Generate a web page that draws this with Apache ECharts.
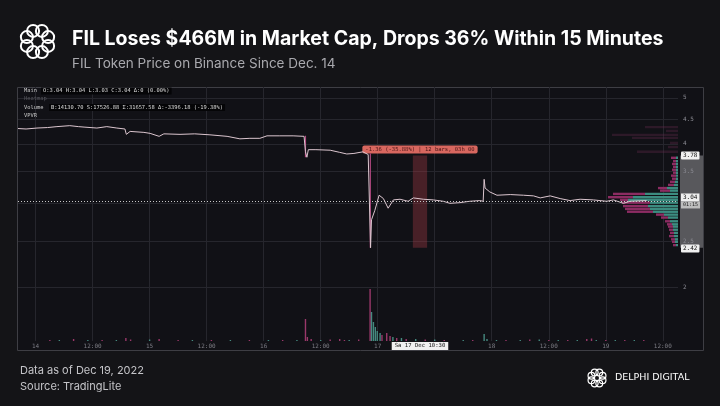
<!DOCTYPE html>
<html>
<head>
<meta charset="utf-8">
<script src="https://cdn.jsdelivr.net/npm/echarts@6/dist/echarts.min.js"></script>
<style>
html, body { margin: 0; padding: 0; background: #141417; }
#chart { width: 720px; height: 406px; }
</style>
</head>
<body>
<div id="chart"></div>
<script>
// hours counted from Dec 14 00:00
const hourTicks = [0, 12, 24, 36, 48, 60, 72, 84, 96, 108, 120, 132];
const hourTickLabels = ['14', '12:00', '15', '12:00', '16', '12:00', '17', '12:00', '18', '12:00', '19', '12:00'];
const priceTicks = [2, 2.5, 3, 3.5, 4, 4.5, 5];

const priceHours = [-3.7, -2, 0.3, 2.5, 4.5, 7.2, 9, 10.2, 12.9, 15, 17.1, 18.8, 19.1, 19.9, 22.8, 24.1, 26, 27,
    30.4, 33.5, 36.7, 40.3, 43, 45.1, 47.2, 48.7, 51.4, 54.2, 56.5, 56.8, 57.1, 57.4, 59, 62, 64, 65.5, 67, 68.9,
    70, 70.3, 70.5, 70.7, 71.4, 72.3, 73.2, 74.2, 75.3, 76.7, 78.4, 79.5, 81.6, 83.7, 85.8, 87.2, 89.3, 91.4, 93.5,
    94.2, 94.4, 94.6, 95.6, 97.1, 99.9, 102.7, 104.8, 106.2, 108.3, 110.4, 112.5, 114.6, 117.4, 120.2, 121.6,
    123.7, 125.1, 128.6];
const prices = [4.31, 4.30, 4.32, 4.33, 4.35, 4.37, 4.35, 4.34, 4.32, 4.35, 4.32, 4.30, 4.19, 4.25, 4.23, 4.21, 4.15, 4.20,
    4.19, 4.20, 4.18, 4.15, 4.10, 4.11, 4.11, 4.16, 4.16, 4.16, 4.15, 3.85, 3.75, 3.89, 3.89, 3.88, 3.84, 3.81, 3.82, 3.85,
    3.80, 3.78, 2.42, 2.77, 2.90, 3.12, 3.07, 2.93, 3.05, 3.06, 3.03, 3.08, 3.06, 3.05, 3.03, 3.00, 3.01, 3.03, 3.04,
    3.03, 3.37, 3.23, 3.17, 3.12, 3.13, 3.12, 3.11, 3.08, 3.11, 3.07, 3.04, 3.06, 3.05, 3.03, 3.05,
    3.00, 3.03, 3.04];
const lastPrice = 3.04;
const crashHigh = 3.78;
const crashLow = 2.42;
const wickHours = [56.8, 70.45];
const wickTops = [4.16, 3.82];
const wickLows = [3.75, 2.42];

const volSell = [[3, 1], [8, 2], [14, 1], [19, 3], [20, 1.5], [26, 2], [30, 1], [37, 1], [45, 1], [52, 1], [56.8, 22],
    [57.2, 4], [58, 2], [62, 1.5], [64, 2], [65, 1], [68, 1.5], [70.4, 52], [72.9, 6], [73.9, 8], [74.6, 5], [76, 3],
    [78, 2], [82, 1.5], [86, 1], [92, 1], [99, 1], [104, 1.5], [108, 1], [112, 1], [116, 2], [117, 2.5], [120, 1],
    [124, 1], [128, 1]];
const volBuy = [[5, 1], [11, 1], [17, 1], [24, 1.5], [33, 1], [41, 1], [49, 1], [55, 1], [60, 1], [66, 1], [70.7, 29],
    [71.1, 19], [71.5, 14], [71.9, 10], [72.5, 8], [75.2, 4], [77, 3], [80, 2], [84, 1.5], [90, 1], [94.4, 7], [95, 2],
    [97, 1], [102, 1], [106, 1.5], [110, 1], [114, 1], [118, 1], [122, 1], [126, 1]];

// volume profile: price level, sell, buy, dimmed
const vpLevels = [4.34, 4.26, 4.18, 4.12, 4.02, 3.94, 3.85, 3.74, 3.68, 3.63, 3.58, 3.53, 3.48, 3.43, 3.38, 3.33, 3.28,
    3.23, 3.19, 3.14, 3.09, 3.05, 3.01, 2.96, 2.92, 2.88, 2.84, 2.80, 2.75, 2.71, 2.68, 2.64, 2.60, 2.56, 2.52, 2.49, 2.45];
const vpSell = [33, 12, 66, 46, 8, 10, 41, 5, 3, 4, 3, 4, 3, 5, 4, 5, 6, 9, 10, 32, 25, 8, 28, 25, 25, 26, 8, 7, 5, 5, 5, 4, 4, 5, 4, 3, 3];
const vpBuy = [0, 0, 0, 0, 0, 0, 0, 2, 2, 2, 2, 2, 2, 2, 2, 3, 4, 11, 8, 33, 45, 50, 28, 30, 28, 25, 14, 10, 8, 6, 5, 5, 4, 4, 3, 3, 2];
const vpDim = [1, 1, 1, 1, 1, 1, 1, 0, 0, 0, 0, 0, 0, 0, 0, 0, 0, 0, 0, 0, 0, 0, 0, 0, 0, 0, 0, 0, 0, 0, 0, 0, 0, 0, 0, 0, 0];

const hourMin = -3.7, hourMax = 135.2;
const logMin = Math.log(1.54), logMax = Math.log(5.27);
const vpHalf = 0.0058;
const mono = 'DejaVu Sans Mono';
const axisGray = '#7c7c84';
const gridColor = '#26262d';

const chart = echarts.init(document.getElementById('chart'));

const tagLabel = {
    position: 'end', distance: 3, backgroundColor: '#f0f0f0', color: '#111',
    fontFamily: mono, fontSize: 6, padding: [1, 2], borderRadius: 1,
};

const option = {
    backgroundColor: '#141417',
    animation: false,
    grid: [
        { left: 18, right: 42, top: 87, bottom: 65 },
        { left: 18, right: 42, top: 280, bottom: 65 },
        { left: 560, right: 42, top: 87, bottom: 65 },
    ],
    xAxis: [
        {
            type: 'value', gridIndex: 0, min: hourMin, max: hourMax,
            axisLine: { show: false }, axisTick: { show: false, customValues: hourTicks },
            splitLine: { show: true, lineStyle: { color: gridColor, width: 1 } },
            axisLabel: {
                customValues: hourTicks, color: axisGray, fontSize: 6, fontFamily: mono, margin: 2,
                formatter: v => hourTickLabels[hourTicks.indexOf(Math.round(v))] || '',
            },
        },
        { type: 'value', gridIndex: 1, min: hourMin, max: hourMax, show: false },
        { type: 'value', gridIndex: 2, min: 0, max: 118, inverse: true, show: false },
    ],
    yAxis: [
        {
            type: 'value', gridIndex: 0, position: 'right', min: logMin, max: logMax,
            axisLine: { show: false }, axisTick: { show: false, customValues: priceTicks.map(p => Math.log(p)) },
            splitLine: { show: true, lineStyle: { color: gridColor, width: 1 } },
            axisLabel: {
                customValues: priceTicks.map(p => Math.log(p)), color: '#8a8a92', fontSize: 6, fontFamily: mono, margin: 5,
                formatter: v => String(+Math.exp(v).toFixed(2)),
            },
        },
        { type: 'value', gridIndex: 1, min: 0, max: 61, show: false },
        { type: 'value', gridIndex: 2, min: logMin, max: logMax, show: false },
    ],
    series: [
        {
            type: 'bar', xAxisIndex: 1, yAxisIndex: 1, barWidth: 1.4, data: volSell,
            itemStyle: { color: '#9a386a' }, silent: true,
        },
        {
            type: 'bar', xAxisIndex: 1, yAxisIndex: 1, barWidth: 1.4, data: volBuy, barGap: '-100%',
            itemStyle: { color: '#468a80' }, silent: true,
        },
        {
            type: 'custom', xAxisIndex: 2, yAxisIndex: 2, silent: true,
            data: vpLevels.map((p, i) => [p, vpSell[i], vpBuy[i], vpDim[i]]),
            encode: { x: 1, y: 0 },
            renderItem: (params, api) => {
                const lp = Math.log(api.value(0));
                const sell = api.value(1), buy = api.value(2), dim = api.value(3);
                const a = api.coord([0, lp + vpHalf]);
                const b = api.coord([buy, lp - vpHalf]);
                const c = api.coord([buy + sell, lp - vpHalf]);
                const h = b[1] - a[1];
                const children = [];
                if (dim) {
                    children.push({ type: 'rect', shape: { x: c[0], y: a[1], width: a[0] - c[0], height: h }, style: { fill: 'rgba(105,45,80,0.32)' } });
                } else {
                    children.push({ type: 'rect', shape: { x: b[0], y: a[1], width: a[0] - b[0], height: h }, style: { fill: '#3c8c80' } });
                    children.push({ type: 'rect', shape: { x: c[0], y: a[1], width: b[0] - c[0], height: h }, style: { fill: '#8c2c62' } });
                }
                return { type: 'group', children };
            },
        },
        ...wickHours.map((h, i) => ({
            type: 'line', xAxisIndex: 0, yAxisIndex: 0, silent: true, symbol: 'none',
            data: [[h, Math.log(wickTops[i])], [h, Math.log(wickLows[i])]],
            lineStyle: { color: '#b0477f', width: 1.2 },
        })),
        {
            type: 'line', xAxisIndex: 0, yAxisIndex: 0, silent: true, symbol: 'none', z: 4,
            data: priceHours.map((h, i) => [h, Math.log(prices[i])]),
            lineStyle: { color: '#dcc6cf', width: 1 },
            markArea: {
                silent: true,
                itemStyle: { color: 'rgba(150,55,65,0.42)' },
                label: {
                    show: true, position: 'top', distance: 2,
                    formatter: '-1.36 (-35.88%) | 12 bars, 03h 00',
                    backgroundColor: '#d8675f', color: '#4a1515', fontFamily: mono, fontSize: 5.5,
                    padding: [1, 3], borderRadius: 2,
                },
                data: [[{ xAxis: 79.4, yAxis: Math.log(crashHigh) }, { xAxis: 82.4, yAxis: Math.log(crashLow) }]],
            },
            markLine: {
                silent: true, symbol: 'none', z: 10,
                label: tagLabel,
                data: [
                    {
                        yAxis: Math.log(lastPrice), lineStyle: { color: '#c8c8c8', type: [1, 2], width: 1 },
                        label: {
                            formatter: '{a|' + lastPrice.toFixed(2) + '}\n{b|01:15}',
                            backgroundColor: 'transparent', padding: 0,
                            rich: {
                                a: { backgroundColor: '#f0f0f0', color: '#111', fontFamily: mono, fontSize: 6, padding: [1, 2] },
                                b: { backgroundColor: '#bdbdbd', color: '#222', fontFamily: mono, fontSize: 5, padding: [1, 2] },
                            },
                        },
                    },
                    {
                        yAxis: Math.log(crashHigh), lineStyle: { color: 'rgba(0,0,0,0)', width: 0.1 },
                        label: Object.assign({}, tagLabel, { formatter: crashHigh.toFixed(2) }),
                    },
                    {
                        yAxis: Math.log(crashLow), lineStyle: { color: 'rgba(0,0,0,0)', width: 0.1 },
                        label: Object.assign({}, tagLabel, { formatter: crashLow.toFixed(2) }),
                    },
                ],
            },
        },
    ],
};

chart.setOption(option);

// overlays placed through the chart's own scales
const pHigh = chart.convertToPixel({ gridIndex: 0 }, [79.4, Math.log(crashHigh)]);
const pLow = chart.convertToPixel({ gridIndex: 0 }, [82.4, Math.log(crashLow)]);

const ring = (cx, cy, R, r, w) => {
    const out = [];
    for (let k = 0; k < 8; k++) {
        const t = k * Math.PI / 4 + Math.PI / 8;
        out.push({
            type: 'circle', silent: true,
            shape: { cx: cx + R * Math.cos(t), cy: cy + R * Math.sin(t), r },
            style: { fill: 'none', stroke: '#ffffff', lineWidth: w },
        });
    }
    return out;
};

const legendText = (y, text, color, bg) => ({
    type: 'text', x: 22, y, silent: true, z: 50,
    style: { text, fill: color, fontFamily: mono, fontSize: 5.4, verticalAlign: 'middle', backgroundColor: bg, padding: [1, 2] },
});

chart.setOption({
    graphic: [
        {
            type: 'rect', silent: true, z: -10,
            shape: { x: 17.5, y: 87.5, width: 686, height: 263 },
            style: { fill: '#111116', stroke: '#3e3e44', lineWidth: 1 },
        },
        {
            type: 'rect', silent: true, z: -5,
            shape: { x: 680, y: pHigh[1], width: 23, height: pLow[1] - pHigh[1] },
            style: { fill: '#58585c' },
        },
        {
            type: 'rect', silent: true, z: -5,
            shape: { x: pHigh[0], y: 342, width: pLow[0] - pHigh[0], height: 8 },
            style: { fill: '#4a4a50' },
        },
        {
            type: 'text', silent: true, z: 60, x: (pHigh[0] + pLow[0]) / 2, y: 346,
            style: {
                text: 'Sa 17 Dec 10:30', fill: '#111', fontFamily: mono, fontSize: 5.6, align: 'center', verticalAlign: 'middle',
                backgroundColor: '#f0f0f0', padding: [1, 3],
            },
        },
        legendText(91, 'Main', '#c8c8c8', 'transparent'),
        {
            type: 'text', x: 41, y: 91, silent: true, z: 50,
            style: { text: 'O:3.04 H:3.04 L:3.03 C:3.04 Δ:0 (0.00%)', fill: '#dcdcdc', fontFamily: mono, fontSize: 5.4, verticalAlign: 'middle', backgroundColor: '#050507', padding: [1, 2] },
        },
        legendText(99, 'Heatmap', '#55555c', 'transparent'),
        legendText(107.5, 'Volume', '#c8c8c8', 'transparent'),
        {
            type: 'text', x: 49, y: 107.5, silent: true, z: 50,
            style: { text: 'B:14130.70 S:17526.88 Σ:31657.58 Δ:-3396.18 (-19.38%)', fill: '#dcdcdc', fontFamily: mono, fontSize: 5.4, verticalAlign: 'middle', backgroundColor: '#050507', padding: [1, 2] },
        },
        legendText(115.5, 'VPVR', '#c8c8c8', 'transparent'),
        ...ring(37.5, 41.5, 11.5, 6, 2),
        {
            type: 'text', x: 72, y: 39, silent: true,
            style: {
                text: 'FIL Loses $466M in Market Cap, Drops 36% Within 15 Minutes',
                fill: '#ffffff', fontFamily: 'Inter', fontWeight: 'bold', fontSize: 19.5, verticalAlign: 'middle',
            },
        },
        {
            type: 'text', x: 72, y: 63.5, silent: true,
            style: {
                text: 'FIL Token Price on Binance Since Dec. 14',
                fill: '#a9a9ae', fontFamily: 'Inter', fontSize: 13.5, verticalAlign: 'middle',
            },
        },
        {
            type: 'text', x: 20, y: 371, silent: true,
            style: { text: 'Data as of Dec 19, 2022', fill: '#c4c4c8', fontFamily: 'Inter', fontSize: 11, verticalAlign: 'middle' },
        },
        {
            type: 'text', x: 20, y: 387, silent: true,
            style: { text: 'Source: TradingLite', fill: '#c4c4c8', fontFamily: 'Inter', fontSize: 11, verticalAlign: 'middle' },
        },
        ...ring(597, 378, 6, 3.4, 1.2),
        {
            type: 'text', x: 615, y: 378, silent: true,
            style: { text: 'DELPHI DIGITAL', fill: '#ffffff', fontFamily: 'DejaVu Sans', fontSize: 9.5, verticalAlign: 'middle' },
        },
    ],
});
</script>
</body>
</html>
